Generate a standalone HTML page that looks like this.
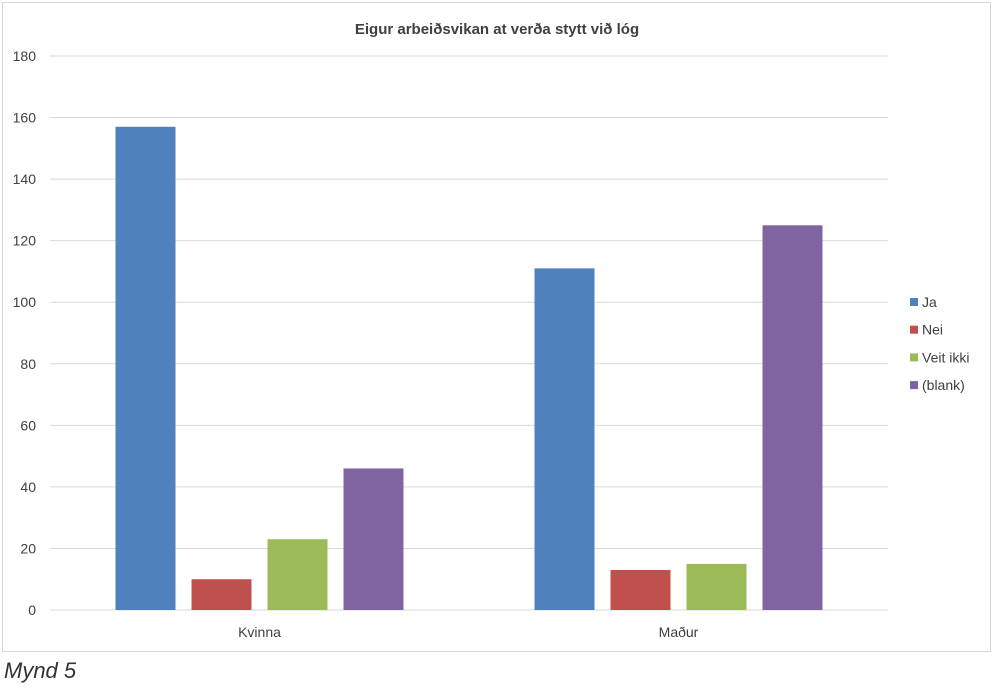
<!DOCTYPE html>
<html><head><meta charset="utf-8"><style>
body{margin:0;background:#fff;width:1000px;height:689px;overflow:hidden;font-family:"Liberation Sans",sans-serif}
</style></head><body>
<svg width="1000" height="689">
<rect x="2.5" y="2.5" width="988" height="649" fill="#fff" stroke="#d9d9d9"/>
<text x="497" y="34" text-anchor="middle" font-size="15" font-weight="bold" fill="#404040">Eigur arbeiðsvikan at verða stytt við lóg</text>
<g id="grid"></g><g id="bars"></g><g id="legend"></g>
<text x="4" y="678" font-size="22" font-style="italic" fill="#333">Mynd 5</text>
</svg>
<script>
const categories=["Kvinna","Maður"];
const seriesNames=["Ja","Nei","Veit ikki","(blank)"];
const colors=["#4f81bd","#c0504d","#9bbb59","#8064a2"];
const ja=[157,111];
const nei=[10,13];
const veit=[23,15];
const blank=[46,125];
const ticks=[0,20,40,60,80,100,120,140,160,180];
const series=[ja,nei,veit,blank];
const NS="http://www.w3.org/2000/svg";
const x0=50,x1=888,y0=610,ymax=180,ytop=56;
const y=v=>y0-(v/ymax)*(y0-ytop);
const catW=(x1-x0)/categories.length;
const cx=i=>x0+catW*(i+0.5);
function mk(t,a,p){const e=document.createElementNS(NS,t);for(const k in a)e.setAttribute(k,a[k]);p.appendChild(e);return e;}
const grid=document.getElementById('grid');
ticks.forEach(t=>{
 const l=mk('line',{x1:x0,x2:x1,y1:y(t),y2:y(t),stroke:'#d9d9d9','stroke-width':1},grid);
 
 
 const tx=mk('text',{x:36,y:y(t)+5,'text-anchor':'end','font-size':14,fill:'#404040'},grid);
 tx.textContent=t;
 
 
});
const bars=document.getElementById('bars');
const bw=60,step=76;
categories.forEach((c,i)=>{
 series.forEach((s,j)=>{
  const bx=cx(i)+(j-1.5)*step-bw/2;
  const r=mk('rect',{x:bx,y:y(s[i]),width:bw,height:y0-y(s[i]),fill:colors[j]},bars);
  
  
 });
 const tx=mk('text',{x:cx(i),y:637,'text-anchor':'middle','font-size':14,fill:'#404040'},bars);
 tx.textContent=c;
 
 
});
const lg=document.getElementById('legend');
seriesNames.forEach((n,j)=>{
 const ly=302+j*27.7;
 const r=mk('rect',{x:910,y:ly-4,width:8,height:8,fill:colors[j]},lg);
 
 
 const t=mk('text',{x:922,y:ly+5,'font-size':14,fill:'#404040'},lg);
 t.textContent=n;
 
 
});
</script>
</body></html>
